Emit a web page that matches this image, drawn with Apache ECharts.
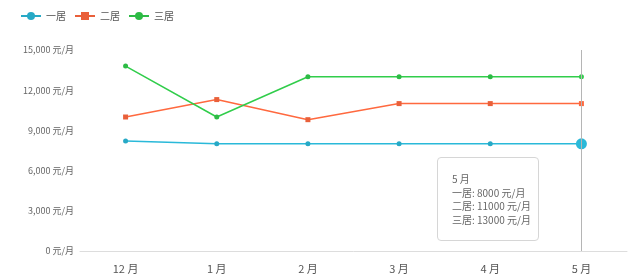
<!DOCTYPE html>
<html><head><meta charset="utf-8">
<script src="https://cdn.jsdelivr.net/npm/echarts@6/dist/echarts.min.js"></script>
<style>html,body{margin:0;padding:0;background:#fff}#c{width:640px;height:278px}</style>
</head><body><div id="c"></div>
<script>
const categories = ['12月','1月','2月','3月','4月','5月'];
const seriesNames = ['一居','二居','三居'];
const oneRoom = [8200, 8000, 8000, 8000, 8000, 8000];
const twoRoom = [10000, 11300, 9800, 11000, 11000, 11000];
const threeRoom = [13800, 10000, 13000, 13000, 13000, 13000];
const yTicks = [0, 3000, 6000, 9000, 12000, 15000];
const unit = '元/月';

const colors = ['#27a9c6', '#e9603a', '#2dbb45'];
const chart = echarts.init(document.getElementById('c'));
const font = '"Microsoft YaHei","Noto Sans CJK SC",sans-serif';
function mk(name, data, color, symbol, emph) {
  return {
    name, type: 'line', data, symbol, symbolSize: 5,
    lineStyle: {width: 1.5, color}, itemStyle: {color},
    emphasis: emph ? {scale: 2.2} : {scale: false},
    animation: false
  };
}
chart.setOption({
  animation: false,
  color: colors,
  textStyle: {fontFamily: font},
  legend: {
    left: 15, top: 6, itemWidth: 20, itemHeight: 10, itemGap: 8,
    textStyle: {fontSize: 10, color: '#555', fontFamily: font},
    data: seriesNames
  },
  grid: {left: 80, right: 13, top: 50, bottom: 27, containLabel: false},
  tooltip: {
    trigger: 'axis', alwaysShowContent: true, triggerOn: 'none',
    position: [437, 157],
    backgroundColor: '#fff', borderColor: '#d6d6d6', borderWidth: 1, borderRadius: 4,
    padding: [14, 14, 14, 14],
    extraCssText: 'box-shadow:none;width:72px;line-height:13.5px;',
    textStyle: {fontSize: 10, color: '#666', fontFamily: font},
    axisPointer: {type: 'line', lineStyle: {color: '#b5b5b5', width: 1, type: 'solid'}},
    formatter: function (ps) {
      let s = ps[0].axisValue.replace('月', ' 月');
      ps.forEach(p => { s += '<br/>' + p.seriesName + ': ' + p.value + ' ' + unit; });
      return s;
    }
  },
  xAxis: {
    type: 'category', data: categories, boundaryGap: true,
    axisLine: {lineStyle: {color: '#ddd'}}, axisTick: {show: false},
    axisLabel: {color: '#555', fontSize: 11, margin: 12,
      formatter: v => v.replace('月', ' 月')}
  },
  yAxis: {
    type: 'value', min: yTicks[0], max: yTicks[yTicks.length - 1], interval: yTicks[1] - yTicks[0],
    axisLine: {show: false}, axisTick: {show: false}, splitLine: {show: false},
    axisLabel: {color: '#666', fontSize: 9, margin: 6,
      formatter: v => v.toLocaleString('en-US') + ' ' + unit}
  },
  series: [
    mk(seriesNames[0], oneRoom, colors[0], 'circle', true),
    mk(seriesNames[1], twoRoom, colors[1], 'rect', false),
    mk(seriesNames[2], threeRoom, colors[2], 'circle', false)
  ]
});
chart.dispatchAction({type: 'showTip', seriesIndex: 0, dataIndex: 5});
</script></body></html>
